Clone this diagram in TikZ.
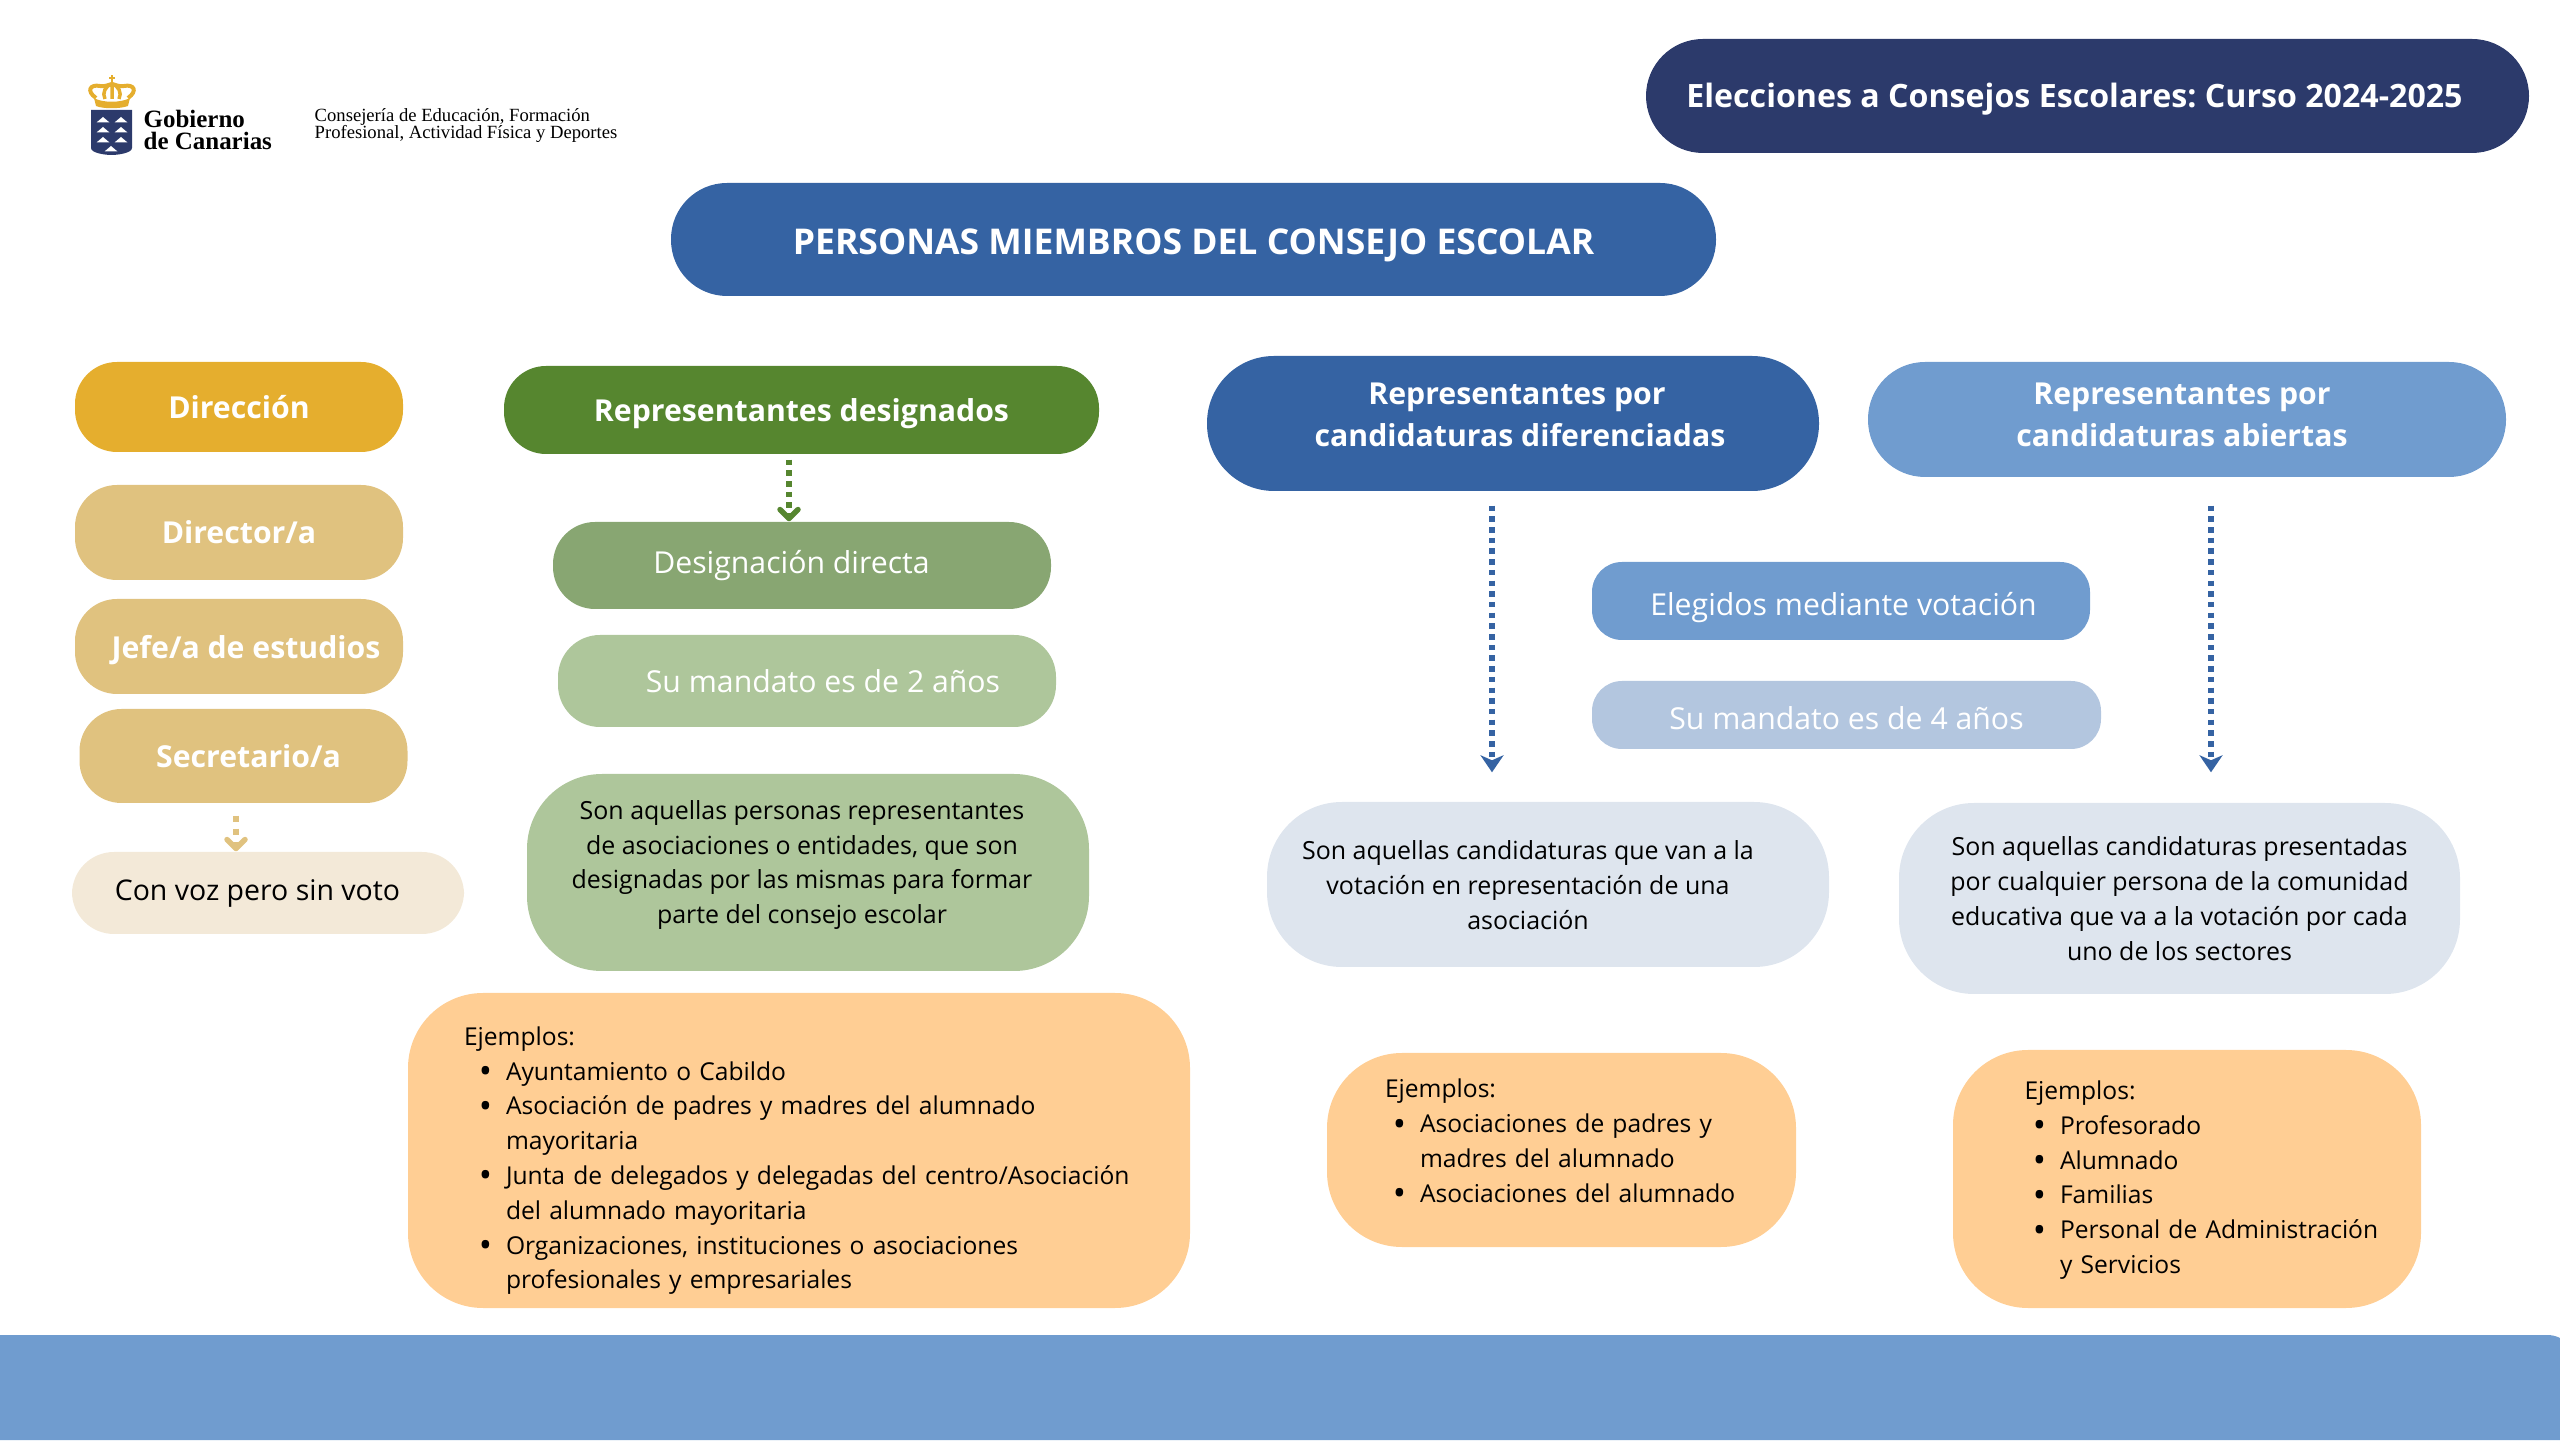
\documentclass[tikz,border=0pt]{standalone}
\usepackage{fontspec}
\usepackage{enumitem}
\setmainfont{Open Sans}
\newfontfamily\logofont{Liberation Serif}
\setlist[itemize]{nosep,labelsep=.14cm,label={\raisebox{-.035cm}{\fontsize{10}{10}\selectfont\textbullet}}}
\usetikzlibrary{arrows.meta}
\definecolor{navy}{HTML}{2C3A6B}
\definecolor{blueA}{HTML}{3563A3}
\definecolor{blueB}{HTML}{709CCF}
\definecolor{blueC}{HTML}{B3C6DF}
\definecolor{blueD}{HTML}{DEE5EE}
\definecolor{goldA}{HTML}{E5AE2E}
\definecolor{goldB}{HTML}{E0C27F}
\definecolor{goldC}{HTML}{F3E9D8}
\definecolor{greenA}{HTML}{56862F}
\definecolor{greenB}{HTML}{88A672}
\definecolor{greenC}{HTML}{AEC69B}
\definecolor{orangeA}{HTML}{FFCE94}
\frenchspacing
\begin{document}
\begin{tikzpicture}[
  pill/.style={rounded corners=.42cm,inner sep=0pt,align=center,text=white,font=\fontsize{8.6}{12}\selectfont\bfseries},
  soft/.style={pill,font=\fontsize{8.6}{11}\selectfont},
  para/.style={rounded corners=.75cm,inner sep=0pt,align=center,font=\fontsize{7.1}{9.9}\selectfont},
  exbox/.style={rounded corners=.75cm,inner sep=0pt,align=left,fill=orangeA,font=\fontsize{7}{9.9}\selectfont},
  flow/.style={line width=.055cm,dash pattern=on .055cm off .052cm}]
\useasboundingbox (0,0) rectangle (25.6,14.4);
% logo
\fill[navy] (.91,13.30) -- (1.32,13.30) -- (1.32,12.92) .. controls (1.32,12.87) and (1.18,12.85) .. (1.115,12.85) .. controls (1.05,12.85) and (.91,12.87) .. (.91,12.92) -- cycle;
\foreach \x/\y in {1.03/13.20,1.21/13.20,1.03/13.10,1.21/13.10,1.03/13.00,1.21/13.00,1.11/12.91}
  \fill[white] (\x-.065,\y-.025) -- (\x+.065,\y-.025) -- (\x,\y+.03) -- cycle;
\fill[goldA] (.94,13.42) .. controls (1.02,13.37) and (1.21,13.37) .. (1.30,13.42) -- (1.28,13.34) .. controls (1.20,13.31) and (1.03,13.31) .. (.96,13.34) -- cycle;
\draw[goldA,line width=.04cm] (.96,13.42) .. controls (.86,13.49) and (.90,13.56) .. (1.00,13.54) .. controls (1.04,13.53) and (1.08,13.55) .. (1.12,13.56) .. controls (1.16,13.55) and (1.20,13.53) .. (1.24,13.54) .. controls (1.34,13.56) and (1.38,13.49) .. (1.28,13.42);
\draw[goldA,line width=.035cm] (1.05,13.41) .. controls (1.02,13.47) and (1.05,13.54) .. (1.12,13.56) .. controls (1.19,13.54) and (1.22,13.47) .. (1.19,13.41) (1.12,13.56) -- (1.12,13.41);
\draw[goldA,line width=.025cm] (1.12,13.56) -- (1.12,13.65) (1.09,13.62) -- (1.15,13.62);
\node[anchor=base west,inner sep=0pt,align=left,font=\logofont\bfseries\fontsize{7.1}{6.3}\selectfont] (gobierno) at (1.43,12.90) {Gobierno\\de Canarias};
\node[anchor=base west,inner sep=0pt,align=left,font=\logofont\fontsize{5.3}{5.1}\selectfont] (consejeria) at (3.14,13.01) {Consejería de Educación, Formación\\Profesional, Actividad Física y Deportes};
% cabecera
\node[pill,fill=navy,minimum width=8.83cm,minimum height=1.14cm,rounded corners=.57cm,text height=.31cm,font=\fontsize{9.15}{12}\selectfont\bfseries] (curso) at (20.875,13.44) {Elecciones a Consejos Escolares: Curso 2024-2025\hspace*{.26cm}};
\node[pill,fill=blueA,minimum width=10.45cm,minimum height=1.13cm,rounded corners=.56cm,text height=.37cm,font=\fontsize{10.1}{12}\selectfont\bfseries] (miembros) at (11.935,12.005) {PERSONAS MIEMBROS DEL CONSEJO ESCOLAR};
% direccion
\node[pill,fill=goldA,minimum width=3.28cm,minimum height=.90cm] (direccion) at (2.39,10.33) {Dirección};
\node[pill,fill=goldB,minimum width=3.28cm,minimum height=.95cm] (director) at (2.39,9.075) {Director/a};
\node[pill,fill=goldB,minimum width=3.28cm,minimum height=.95cm,text height=.30cm] (jefe) at (2.39,7.935) {\hspace*{.14cm}Jefe/a de estudios};
\node[pill,fill=goldB,minimum width=3.28cm,minimum height=.94cm] (secretario) at (2.435,6.84) {\hspace*{.1cm}Secretario/a};
\node[soft,fill=goldC,text=black,minimum width=3.92cm,minimum height=.82cm,font=\fontsize{8.1}{11}\selectfont] (convoz) at (2.68,5.47) {Con voz pero sin voto\hspace*{.21cm}};
\draw[flow,goldB,dash pattern=on .06cm off .07cm,shorten <=.12cm,-{Straight Barb[round,length=.09cm,width=.18cm]}] (secretario.south -| 2.36,0) -- (convoz.north -| 2.36,0);
% designados
\node[pill,fill=greenA,minimum width=5.95cm,minimum height=.88cm,text height=.30cm] (designados) at (8.015,10.30) {Representantes designados};
\node[soft,fill=greenB,minimum width=4.98cm,minimum height=.87cm] (directa) at (8.02,8.745) {Designación directa\hspace*{.21cm}};
\node[soft,fill=greenC,minimum width=4.98cm,minimum height=.92cm] (mandatodos) at (8.07,7.59) {\hspace*{.32cm}Su mandato es de 2 años};
\node[para,fill=greenC,minimum width=5.62cm,minimum height=1.97cm] (sonasoc) at (8.08,5.675) {\begin{tabular}{@{}c@{}}Son aquellas personas representantes\\de asociaciones o entidades, que son\\designadas por las mismas para formar\\parte del consejo escolar\\[.16cm]\end{tabular}\hspace*{.12cm}};
\node[exbox,minimum width=7.82cm,minimum height=3.15cm,text width=7.82cm] (ejdesig) at (7.99,2.895) {\rule{0pt}{.39cm}\hspace*{.56cm}Ejemplos:
  \begin{itemize}[leftmargin=.98cm]
  \item Ayuntamiento o Cabildo
  \item Asociación de padres y madres del alumnado\\mayoritaria
  \item Junta de delegados y delegadas del centro/Asociación\\del alumnado mayoritaria
  \item Organizaciones, instituciones o asociaciones\\profesionales y empresariales
  \end{itemize}};
\draw[flow,greenA,shorten <=.05cm,-{Straight Barb[round,length=.09cm,width=.18cm]}] (designados.south -| 7.89,0) -- (directa.north -| 7.89,0);
% diferenciadas
\node[pill,fill=blueA,minimum width=6.12cm,minimum height=1.35cm,rounded corners=.67cm,text depth=.17cm] (difer) at (15.13,10.165) {\hspace*{.08cm}Representantes por\\\hspace*{.14cm}candidaturas diferenciadas};
\node[soft,fill=blueB,minimum width=4.98cm,minimum height=.78cm,rounded corners=.3cm,text height=.36cm] (elegidos) at (18.41,8.39) {\hspace*{.05cm}Elegidos mediante votación};
\node[soft,fill=blueC,minimum width=5.09cm,minimum height=.68cm,rounded corners=.3cm,text height=.29cm] (mandatocuatro) at (18.465,7.25) {Su mandato es de 4 años};
\node[para,fill=blueD,minimum width=5.62cm,minimum height=1.65cm] (sondifer) at (15.48,5.555) {\begin{tabular}{@{}c@{}}\noalign{\vskip.066cm}Son aquellas candidaturas que van a la\\votación en representación de una\\asociación\end{tabular}\hspace*{.4cm}};
\node[exbox,minimum width=4.69cm,minimum height=1.94cm,text width=4.69cm,text depth=1.23cm] (ejdifer) at (15.615,2.9) {\hspace*{.58cm}Ejemplos:
  \begin{itemize}[leftmargin=.93cm]
  \item Asociaciones de padres y\\madres del alumnado
  \item Asociaciones del alumnado
  \end{itemize}};
\draw[flow,blueA,shorten <=.14cm,shorten >=.29cm,-{Stealth[length=.17cm,width=.23cm,inset=.05cm]}] (difer.south -| 14.92,0) -- (sondifer.north -| 14.92,0);
% abiertas
\node[pill,fill=blueB,minimum width=6.38cm,minimum height=1.15cm,rounded corners=.57cm,text depth=.10cm] (abiertas) at (21.87,10.205) {Representantes por\hspace*{.1cm}\\candidaturas abiertas\hspace*{.1cm}};
\node[para,fill=blueD,minimum width=5.61cm,minimum height=1.91cm] (sonabiertas) at (21.795,5.415) {Son aquellas candidaturas presentadas\\por cualquier persona de la comunidad\\educativa que va a la votación por cada\\uno de los sectores};
\node[exbox,minimum width=4.68cm,minimum height=2.58cm,text width=4.68cm] (ejabiertas) at (21.87,2.61) {\rule{0pt}{.21cm}\hspace*{.715cm}Ejemplos:
  \begin{itemize}[leftmargin=1.07cm]
  \item Profesorado
  \item Alumnado
  \item Familias
  \item Personal de Administración\\y Servicios
  \end{itemize}};
\draw[flow,blueA,shorten <=.28cm,shorten >=.30cm,-{Stealth[length=.17cm,width=.23cm,inset=.05cm]}] (abiertas.south -| 22.11,0) -- (sonabiertas.north -| 22.11,0);
% franja
\fill[blueB] (0,0) -- (0,1.05) -- (25.47,1.05) .. controls (25.52,1.05) and (25.56,1.04) .. (25.6,1.02) -- (25.6,0) -- cycle;
\end{tikzpicture}
\end{document}
